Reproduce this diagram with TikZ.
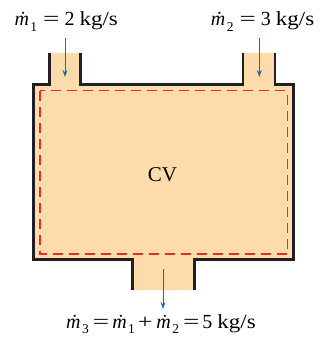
\documentclass[tikz,border=0pt]{standalone}
\usepackage{fontspec}
\usepackage{graphicx}
\setmainfont{Liberation Serif}
\usetikzlibrary{arrows.meta}
\definecolor{peach}{RGB}{253,219,170}
\definecolor{wallc}{RGB}{35,31,32}
\definecolor{cvred}{RGB}{235,40,50}
\definecolor{flowblue}{RGB}{30,105,180}
\newcommand\mdot[1]{\textit{\.{m}}\hspace{1.5pt}\raisebox{-0.28em}{\fontsize{13.5}{13.5}\selectfont #1}}
\newcommand\eqs{\hspace{6pt}\scalebox{1.45}[1]{=}\hspace{5pt}}
\newcommand\eqb{\hspace{4pt}\scalebox{1.45}[1]{=}\hspace{3pt}}
\newcommand\pls{\hspace{3pt}\scalebox{1.28}[1]{+}\hspace{4pt}}
\newcommand\kgs{\scalebox{1.15}[1]{kg/s}}
\begin{document}
\begin{tikzpicture}[x=1pt,y=-1pt,
  wall/.style={draw=wallc,line width=2.6pt,line join=miter},
  cvline/.style={draw=cvred,line width=1.2pt,dash pattern=on 10pt off 6pt},
  flow/.style={draw=flowblue,line width=1pt,-{Stealth[length=7pt,width=5pt]}},
  lbl/.style={inner sep=0pt,font=\fontsize{20}{22}\selectfont,anchor=base}]
\useasboundingbox (0,0) rectangle (326,339);
\fill[peach] (49.5,53) -- (49.5,84.5) -- (33.3,84.5) -- (33.3,259.5) -- (132.5,259.5) -- (132.5,290) -- (194.7,290) -- (194.7,259.5) -- (293.5,259.5) -- (293.5,84.5) -- (275,84.5) -- (275,53) -- (243,53) -- (243,84.5) -- (80.7,84.5) -- (80.7,53) -- cycle;
\draw[wall] (49.5,53) -- (49.5,84.5) -- (33.3,84.5) -- (33.3,259.5) -- (132.5,259.5) -- (132.5,290);
\draw[wall] (194.7,290) -- (194.7,259.5) -- (293.5,259.5) -- (293.5,84.5) -- (275,84.5) -- (275,53);
\draw[wall] (243,53) -- (243,84.5) -- (80.7,84.5) -- (80.7,53);
\draw[cvline] (40,90.7) rectangle (287.3,254);
\node[font=\fontsize{21}{23}\selectfont,inner sep=0pt] (cv) at (162.5,175) {CV};
\node[lbl] (m1) at (66.2,25.5) {\mdot{1}\eqs 2 \kgs};
\node[lbl] (m2) at (262.5,25.5) {\mdot{2}\eqs 3 \kgs};
\node[lbl] (m3) at (161,328) {\mdot{3}\eqb\mdot{1}\pls\mdot{2}\eqb 5 \kgs};
\coordinate (in1) at (65,77);
\coordinate (in2) at (259.3,77);
\coordinate (out3) at (163,269);
\draw[flow] ([yshift=-7pt]m1.south -| in1) -- (in1);
\draw[flow] ([yshift=-7pt]m2.south -| in2) -- (in2);
\draw[flow] (out3) -- ([yshift=5pt]m3.north -| out3);
\end{tikzpicture}
\end{document}
